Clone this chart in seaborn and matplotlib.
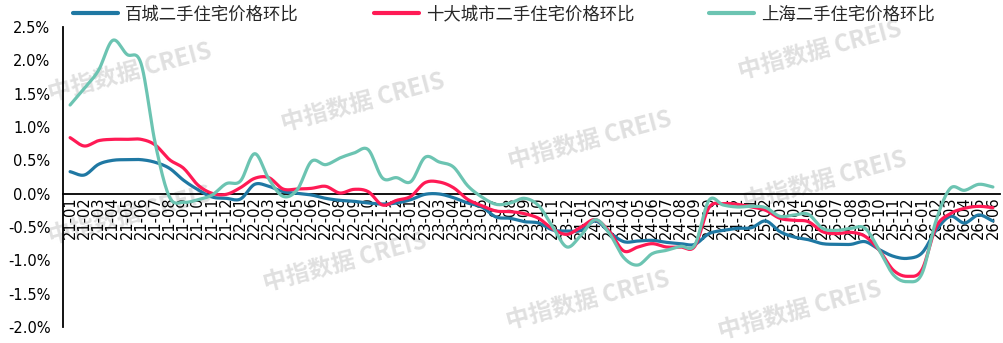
import matplotlib
matplotlib.use('Agg')
import matplotlib.pyplot as plt
from matplotlib.lines import Line2D
from matplotlib.font_manager import FontProperties
import numpy as np
import pandas as pd
import seaborn as sns

# 月份标签 21-01 ... 26-06
months = ['21-01', '21-02', '21-03', '21-04', '21-05', '21-06', '21-07', '21-08', '21-09', '21-10', '21-11', '21-12',
          '22-01', '22-02', '22-03', '22-04', '22-05', '22-06', '22-07', '22-08', '22-09', '22-10', '22-11', '22-12',
          '23-01', '23-02', '23-03', '23-04', '23-05', '23-06', '23-07', '23-08', '23-09', '23-10', '23-11', '23-12',
          '24-01', '24-02', '24-03', '24-04', '24-05', '24-06', '24-07', '24-08', '24-09', '24-10', '24-11', '24-12',
          '25-01', '25-02', '25-03', '25-04', '25-05', '25-06', '25-07', '25-08', '25-09', '25-10', '25-11', '25-12',
          '26-01', '26-02', '26-03', '26-04', '26-05', '26-06']

# 百城二手住宅价格环比 (%)
baicheng = [0.33, 0.28, 0.44, 0.50, 0.51, 0.51, 0.47, 0.38, 0.20, 0.06, -0.05, -0.07,
            -0.08, 0.14, 0.11, 0.03, 0.005, -0.02, -0.07, -0.10, -0.115, -0.14, -0.155, -0.14,
            -0.09, -0.01, -0.005, -0.06, -0.14, -0.20, -0.35, -0.37, -0.42, -0.44, -0.545, -0.56,
            -0.55, -0.41, -0.58, -0.72, -0.71, -0.70, -0.73, -0.75, -0.76, -0.60, -0.55, -0.52,
            -0.51, -0.41, -0.57, -0.65, -0.69, -0.75, -0.76, -0.76, -0.72, -0.84, -0.94, -0.97,
            -0.89, -0.55, -0.34, -0.44, -0.32, -0.41]

# 十大城市二手住宅价格环比 (%)
top10 = [0.84, 0.715, 0.795, 0.815, 0.815, 0.815, 0.73, 0.51, 0.38, 0.13, 0.005, -0.01,
         0.09, 0.23, 0.24, 0.07, 0.07, 0.08, 0.11, 0.01, 0.065, 0.03, -0.17, -0.10,
         -0.04, 0.165, 0.175, 0.09, -0.085, -0.18, -0.26, -0.27, -0.30, -0.37, -0.53, -0.61,
         -0.50, -0.39, -0.57, -0.86, -0.80, -0.75, -0.80, -0.80, -0.79, -0.21, -0.15, -0.16,
         -0.20, -0.25, -0.37, -0.40, -0.42, -0.57, -0.60, -0.58, -0.64, -0.85, -1.15, -1.24,
         -1.14, -0.50, -0.30, -0.22, -0.19, -0.21]

# 上海二手住宅价格环比 (%)
shanghai = [1.33, 1.58, 1.85, 2.30, 2.09, 1.95, 0.75, -0.05, -0.13, -0.09, -0.02, 0.15,
            0.19, 0.60, 0.22, -0.04, 0.06, 0.485, 0.435, 0.535, 0.61, 0.66, 0.235, 0.24,
            0.18, 0.545, 0.475, 0.40, 0.12, -0.05, -0.16, -0.14, -0.07, -0.18, -0.50, -0.80,
            -0.62, -0.39, -0.60, -0.96, -1.07, -0.90, -0.85, -0.79, -0.77, -0.10, -0.17, -0.20,
            -0.19, -0.21, -0.34, -0.32, -0.31, -0.52, -0.55, -0.52, -0.52, -0.85, -1.22, -1.32,
            -1.20, -0.40, 0.08, 0.05, 0.14, 0.10]

series_names = ['百城二手住宅价格环比', '十大城市二手住宅价格环比', '上海二手住宅价格环比']
colors = ['#1F78A3', '#FF1A55', '#6CC4B2']
y_ticks = [-2.0, -1.5, -1.0, -0.5, 0.0, 0.5, 1.0, 1.5, 2.0, 2.5]

CJK = ['Noto Sans CJK SC', 'DejaVu Sans']


def smooth(y, n=12):
    # 平滑曲线（类似 Excel 的平滑线）
    y = np.asarray(y, float)
    p = np.concatenate([[2 * y[0] - y[1]], y, [2 * y[-1] - y[-2]]])
    t = np.linspace(0, 1, n, endpoint=False)
    xs, ys = [], []
    for i in range(len(y) - 1):
        p0, p1, p2, p3 = p[i], p[i + 1], p[i + 2], p[i + 3]
        seg = 0.5 * (2 * p1 + (-p0 + p2) * t + (2 * p0 - 5 * p1 + 4 * p2 - p3) * t ** 2
                     + (-p0 + 3 * p1 - 3 * p2 + p3) * t ** 3)
        xs.append(i + t)
        ys.append(seg)
    xs.append([len(y) - 1])
    ys.append([y[-1]])
    return np.concatenate(xs), np.concatenate(ys)


sns.set_theme(style='white')
plt.rcParams['font.family'] = CJK
plt.rcParams['axes.unicode_minus'] = False

frames = []
for name, vals in zip(series_names, [baicheng, top10, shanghai]):
    sx, sy = smooth(vals)
    frames.append(pd.DataFrame({'x': sx, 'y': sy, 'series': name}))
df = pd.concat(frames, ignore_index=True)

fig = plt.figure(figsize=(10.04, 3.43), dpi=100)
ax = fig.add_axes([63 / 1004, 16 / 343, 937 / 1004, 300 / 343])

sns.lineplot(data=df, x='x', y='y', hue='series', hue_order=series_names,
             palette=colors, linewidth=2.3, sort=False, estimator=None,
             legend=False, ax=ax, zorder=3)

ax.set_xlim(-0.5, len(months) - 0.5)
ax.set_ylim(-2.0, 2.5)
ax.set_xlabel('')
ax.set_ylabel('')

# 坐标轴
for s in ['top', 'right']:
    ax.spines[s].set_visible(False)
ax.spines['bottom'].set_position(('data', 0))
ax.spines['left'].set_bounds(-2.0, 2.5)
for s in ['bottom', 'left']:
    ax.spines[s].set_color('black')
    ax.spines[s].set_linewidth(1.3)

ax.set_yticks(y_ticks)
ax.set_yticklabels([f'{v:.1f}%' for v in y_ticks], family='DejaVu Sans', fontsize=10.5)
ax.tick_params(axis='y', direction='in', length=5, width=1.3, pad=9, colors='black')

ax.set_xticks(np.arange(len(months)))
ax.set_xticklabels(months, rotation=90, family='DejaVu Sans', fontsize=10.5)
ax.set_xticks(np.arange(1.5, len(months), 2), minor=True)
ax.tick_params(axis='x', which='major', length=0, pad=2, colors='black')
ax.tick_params(axis='x', which='minor', direction='in', length=6, width=1.3, color='black')
ax.grid(False)

# 水印
marks = [(130, 72), (363, 102), (590, 140), (825, 180), (820, 50),
         (130, 215), (345, 262), (588, 300), (800, 310)]
for px, py in marks:
    ax.text(px / 1004, 1 - py / 343, '中指数据 CREIS', transform=fig.transFigure,
            ha='center', va='center', rotation=15, fontsize=17, fontweight='bold',
            color='#e0e0e0', family=CJK, zorder=0.5, clip_on=False)

# 图例
handles = [Line2D([0], [0], color=c, lw=3) for c in colors]
fig.legend(handles, series_names, loc='center', bbox_to_anchor=(0.502, 0.958), ncol=3,
           frameon=False, handlelength=2.6, handletextpad=0.4, columnspacing=4.3,
           prop=FontProperties(family=CJK, size=12.5))

fig.savefig('out.png', dpi=100)
